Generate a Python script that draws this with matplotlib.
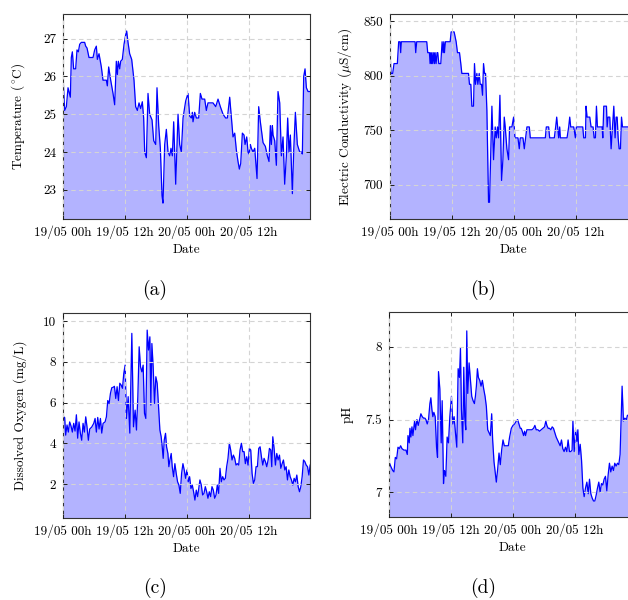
import matplotlib
matplotlib.use("Agg")
import matplotlib.pyplot as plt

# --------------------------------------------------
# DATOS (horas desde 19/05 00h)
# --------------------------------------------------
temp_h = [0.0, 0.32, 0.65, 0.97, 1.42, 1.61, 1.81, 2.06, 2.45, 2.71, 2.97, 3.23, 3.55, 4.19, 4.39,
          4.65, 5.03, 5.81, 6.13, 6.45, 6.65, 6.97, 7.42, 7.74, 8.39, 8.58, 8.84, 9.23, 9.68, 10.0,
          10.32, 10.52, 10.71, 10.97, 11.16, 11.48, 11.81, 12.13, 12.32, 12.58, 12.9, 13.29, 13.74,
          14.06, 14.39, 14.71, 15.03, 15.35, 15.61, 15.81, 16.13, 16.45, 16.77, 17.23, 17.55, 17.94,
          18.19, 18.52, 18.84, 19.16, 19.35, 19.68, 20.0, 20.32, 20.65, 20.9, 21.16, 21.42, 21.81,
          22.26, 22.58, 22.9, 23.23, 23.74, 24.19, 24.52, 24.84, 25.03, 25.16, 25.48, 25.81, 26.26,
          26.58, 26.9, 27.42, 27.74, 28.06, 29.03, 29.55, 30.0, 30.45, 30.97, 31.48, 31.81, 32.26,
          32.71, 32.9, 33.23, 33.55, 33.87, 34.13, 34.39, 34.71, 35.03, 35.23, 35.55, 35.81, 36.0,
          36.26, 36.45, 36.77, 37.1, 37.55, 37.87, 38.19, 38.71, 39.16, 39.55, 39.87, 40.13, 40.32,
          40.52, 40.65, 40.97, 41.29, 41.61, 41.94, 42.26, 42.58, 42.9, 43.23, 43.48, 43.74, 44.0,
          44.39, 44.65, 44.97, 45.35, 45.81, 46.13, 46.32, 46.58, 46.84, 47.1, 47.42, 47.8]
temp_v = [26.0, 25.1, 25.2, 25.7, 25.45, 26.5, 26.65, 26.2, 26.2, 26.7, 26.65, 26.85, 26.9, 26.9, 26.8,
          26.75, 26.5, 26.5, 26.7, 26.8, 26.45, 26.6, 26.25, 25.9, 25.9, 25.75, 26.25, 25.9, 25.55, 25.25,
          26.4, 26.05, 26.4, 26.2, 26.4, 26.45, 26.85, 27.1, 27.2, 26.9, 26.6, 26.45, 25.9,
          25.2, 25.1, 25.3, 25.15, 25.33, 24.9, 24.0, 23.85, 25.55, 25.0, 24.85, 24.3, 24.2,
          25.7, 24.7, 24.1, 22.85, 22.65, 24.2, 24.6, 24.0, 23.9, 24.1, 23.9, 24.8, 23.15,
          25.0, 24.2, 24.0, 24.9, 25.35, 25.55, 24.95, 24.9, 25.05, 24.8, 25.05, 24.9, 24.9,
          25.55, 25.4, 25.4, 25.1, 25.3, 25.3, 25.2, 25.4, 25.2, 25.0, 24.9, 24.9, 25.45,
          24.7, 24.4, 24.5, 24.05, 23.75, 23.55, 23.7, 24.5, 24.45, 24.2, 24.4, 24.0, 23.95,
          24.2, 24.1, 24.0, 24.1, 23.3, 25.2, 24.8, 24.25, 24.15, 23.9, 23.75, 24.7, 24.2,
          24.7, 24.45, 24.3, 23.65, 25.6, 25.3, 23.9, 24.4, 23.15, 23.9, 24.9, 24.0, 24.45,
          22.9, 24.05, 25.05, 24.2, 24.0, 24.0, 23.95, 26.0, 26.2, 25.7, 25.6, 25.6]

ec_h = [0.0, 0.19, 0.52, 0.78, 1.42, 1.68, 1.94, 2.07, 2.2, 4.85, 4.98, 5.17, 7.11, 7.3, 7.63, 7.76,
        7.89, 8.02, 8.14, 8.27, 8.47, 8.6, 8.73, 8.92, 9.11, 9.24, 9.44, 9.83, 10.08, 10.28, 10.41,
        10.54, 10.73, 11.64, 11.83, 12.41, 12.8, 13.06, 13.45, 13.7, 13.9, 15.19, 15.38, 15.64,
        15.84, 16.16, 16.35, 16.55, 16.81, 17.0, 17.26, 17.45, 17.71, 17.91, 18.1, 18.29, 18.49,
        18.75, 19.07, 19.26, 19.72, 20.04, 20.36, 20.56, 20.81, 21.01, 21.27, 21.59, 21.85, 22.11,
        22.3, 22.62, 22.95, 23.14, 23.59, 23.92, 24.18, 24.76, 25.02, 25.21, 25.73, 25.99, 26.24,
        26.5, 26.96, 27.15, 30.06, 30.25, 30.7, 30.9, 31.8, 32.06, 32.26, 32.45, 32.64, 32.84,
        32.97, 34.26, 34.58, 34.78, 34.97, 35.55, 35.88, 36.07, 37.3, 37.49, 37.82, 37.94, 38.14,
        38.66, 38.91, 39.3, 39.5, 39.75, 39.95, 40.14, 41.05, 41.18, 41.37, 41.89, 42.02, 42.21,
        42.53, 42.79, 43.05, 43.31, 43.56, 43.76, 43.96, 44.15, 44.34, 44.6, 44.8, 44.99, 47.8]
ec_v = [821, 802, 802, 811, 811, 831, 831, 821, 831, 831, 821, 831, 831, 821, 821, 811,
        821, 811, 821, 811, 821, 811, 821, 811, 821, 821, 811, 811, 831, 821, 831,
        821, 831, 831, 840, 840, 831, 821, 821, 811, 802, 802, 792, 792,
        772, 772, 811, 792, 802, 792, 802, 792, 792, 782, 811, 802, 802,
        768, 684, 684, 772, 723, 753, 743, 753, 743, 782, 704, 723, 762,
        753, 733, 723, 753, 753, 762, 743, 743, 733, 743, 743, 733, 743,
        753, 753, 743, 743, 753, 753, 743, 743, 753, 762, 753, 743, 753,
        743, 743, 753, 762, 753, 753, 743, 753, 753, 743, 743, 772, 762,
        762, 753, 753, 743, 743, 772, 753, 753, 743, 772, 772, 753, 762,
        762, 733, 753, 772, 743, 762, 762, 743, 733, 733, 762, 753, 753]

do_h = [0.0, 0.32, 0.52, 0.78, 1.03, 1.29, 1.55, 1.81, 2.07, 2.33, 2.59, 2.84, 3.1, 3.36, 3.62,
        3.88, 4.14, 4.4, 4.65, 4.91, 5.17, 5.56, 5.95, 6.21, 6.46, 6.72, 6.98, 7.24, 7.5, 7.76,
        8.14, 8.4, 8.66, 8.92, 9.18, 9.44, 9.7, 9.95, 10.21, 10.47, 10.73, 10.99, 11.25, 11.51,
        11.76, 12.02, 12.28, 12.61, 12.93, 13.32, 13.64, 13.96, 14.22, 14.48, 14.74, 15.0, 15.26,
        15.51, 15.77, 16.03, 16.29, 16.55, 16.81, 17.0, 17.2, 17.45, 17.71, 17.97, 18.23, 18.42,
        18.75, 19.0, 19.2, 19.39, 19.59, 19.84, 20.04, 20.3, 20.49, 20.69, 20.94, 21.14, 21.4,
        21.65, 21.91, 22.17, 22.43, 22.69, 22.95, 23.21, 23.46, 23.72, 23.98, 24.24, 24.5, 24.76,
        25.02, 25.27, 25.53, 25.79, 26.05, 26.31, 26.5, 26.76, 27.02, 27.28, 27.54, 27.8, 28.05,
        28.31, 28.57, 28.83, 29.09, 29.35, 29.61, 29.86, 30.12, 30.38, 30.64, 30.9, 31.16, 31.42,
        31.67, 31.93, 32.19, 32.45, 32.71, 32.97, 33.23, 33.48, 33.74, 34.0, 34.26, 34.52, 34.78,
        35.04, 35.29, 35.55, 35.81, 36.07, 36.33, 36.59, 36.85, 37.1, 37.36, 37.62, 37.88, 38.14,
        38.4, 38.66, 38.91, 39.17, 39.43, 39.69, 39.95, 40.21, 40.4, 40.6, 40.85, 41.11, 41.37,
        41.63, 41.89, 42.15, 42.41, 42.66, 42.92, 43.18, 43.44, 43.7, 43.96, 44.21, 44.47, 44.73,
        44.99, 45.25, 45.51, 45.77, 46.02, 46.28, 46.54, 46.8, 47.06, 47.32, 47.58, 47.83]
do_v = [5.3, 5.27, 4.4, 4.9, 4.55, 5.05, 4.85, 4.55, 4.98, 4.6, 5.4, 4.25, 5.05, 4.5, 4.15,
        4.98, 4.55, 5.3, 4.8, 4.15, 4.7, 4.8, 4.98, 5.22, 4.55, 5.27, 4.7, 5.22, 4.5, 4.98,
        5.05, 5.3, 6.1, 5.95, 6.45, 6.73, 6.75, 6.8, 6.2, 6.78, 6.1, 6.95, 6.86, 6.7,
        7.43, 7.84, 5.22, 6.29, 4.5, 9.4, 4.81, 5.63, 4.65, 6.29, 8.74, 7.76, 7.51,
        7.84, 5.47, 5.22, 9.56, 8.58, 9.23, 5.88, 8.9, 7.76, 5.96, 7.27, 6.94, 6.12,
        4.65, 4.32, 3.83, 3.26, 4.16, 4.49, 3.83, 3.5, 2.85, 3.18, 3.5, 2.85, 2.36,
        3.0, 2.52, 2.11, 1.95, 1.54, 2.52, 3.0, 2.69, 2.28, 2.69, 2.11, 2.36, 1.78,
        1.95, 1.62, 1.21, 1.7, 1.38, 1.87, 2.2, 1.95, 1.46, 1.54, 1.87, 1.62, 1.3,
        1.62, 1.38, 1.87, 1.7, 1.3, 1.46, 1.95, 1.54, 2.77, 2.11, 2.36, 2.2, 2.28,
        2.85, 3.26, 4.0, 3.67, 3.18, 3.42, 3.26, 2.93, 3.0, 2.93, 3.67, 4.0, 3.59,
        3.59, 3.0, 3.34, 2.93, 3.75, 3.67, 2.52, 2.03, 2.2, 2.85, 2.85, 3.75, 3.83,
        3.34, 2.93, 3.26, 3.1, 2.85, 3.18, 3.75, 3.67, 2.85, 4.32, 3.75, 2.93, 3.5,
        3.18, 3.42, 2.77, 3.0, 3.18, 2.69, 2.85, 2.2, 2.69, 2.36, 2.2, 1.95, 2.28,
        2.11, 2.44, 1.87, 1.62, 1.87, 2.36, 3.18, 3.1, 2.93, 2.85, 2.44, 2.93]

ph_h = [0.0, 0.32, 0.71, 0.96, 1.22, 1.48, 1.74, 1.99, 2.25, 2.51, 2.89, 3.28, 3.54, 3.67, 3.92,
        4.05, 4.24, 4.44, 4.63, 4.95, 5.14, 5.4, 5.66, 5.92, 6.17, 6.43, 6.69, 6.95, 7.14, 7.4,
        7.65, 7.91, 8.1, 8.3, 8.49, 8.68, 8.94, 9.2, 9.39, 9.58, 9.84, 10.1, 10.29, 10.55, 10.74,
        11.0, 11.25, 11.51, 11.77, 12.09, 12.35, 12.6, 12.86, 13.12, 13.38, 13.63, 13.83, 14.02,
        14.28, 14.47, 14.66, 14.86, 15.05, 15.24, 15.5, 15.76, 16.01, 16.27, 16.53, 16.72, 16.91,
        17.11, 17.3, 17.56, 17.81, 18.07, 18.33, 18.59, 18.84, 19.1, 19.36, 19.61, 19.87, 20.06,
        20.32, 20.58, 20.77, 21.03, 21.29, 21.54, 21.8, 22.06, 22.32, 22.7, 23.09, 23.34, 23.67,
        23.99, 24.31, 24.63, 24.89, 25.14, 25.4, 25.59, 25.79, 26.05, 26.24, 26.43, 26.69, 27.01,
        27.33, 27.65, 27.97, 28.23, 28.49, 28.81, 29.13, 29.45, 29.77, 30.1, 30.35, 30.55, 30.8,
        31.06, 31.32, 31.58, 31.83, 32.09, 32.35, 32.6, 32.86, 33.12, 33.38, 33.63, 33.89, 34.15,
        34.41, 34.66, 34.92, 35.18, 35.43, 35.59, 35.84, 36.1, 36.36, 36.55, 36.74, 37.0, 37.26,
        37.52, 37.77, 38.03, 38.29, 38.55, 38.8, 39.06, 39.32, 39.58, 39.83, 40.09, 40.35, 40.6,
        40.86, 41.12, 41.38, 41.63, 41.89, 42.15, 42.41, 42.66, 42.92, 43.18, 43.44, 43.69, 43.95,
        44.21, 44.47, 44.72, 44.92, 45.11, 45.37, 45.63, 45.95, 46.14, 46.6, 47.1, 47.8]
ph_v = [7.21, 7.18, 7.15, 7.14, 7.24, 7.23, 7.31, 7.3, 7.32, 7.3, 7.29, 7.29, 7.26, 7.39, 7.34,
        7.44, 7.38, 7.45, 7.39, 7.49, 7.43, 7.5, 7.46, 7.5, 7.54, 7.52, 7.51, 7.51, 7.5, 7.47,
        7.5, 7.61, 7.65, 7.57, 7.52, 7.55, 7.52, 7.31, 7.24, 7.83, 7.71, 7.34, 7.63, 7.06, 7.15,
        7.11, 7.38, 7.34, 7.52, 7.66, 7.47, 7.52, 7.41, 7.31, 7.85, 7.79, 7.99, 7.57,
        7.34, 7.86, 7.52, 7.43, 8.11, 7.68, 7.89, 7.77, 7.66, 7.63, 7.61, 7.66, 7.73,
        7.85, 7.79, 7.77, 7.73, 7.77, 7.71, 7.66, 7.59, 7.43, 7.41, 7.39, 7.54, 7.36,
        7.21, 7.13, 7.07, 7.16, 7.27, 7.19, 7.29, 7.36, 7.32, 7.32, 7.32, 7.38, 7.44,
        7.46, 7.47, 7.49, 7.5, 7.47, 7.44, 7.44, 7.42, 7.39, 7.42, 7.39, 7.43, 7.43,
        7.43, 7.43, 7.44, 7.46, 7.43, 7.43, 7.42, 7.43, 7.44, 7.45, 7.49, 7.46, 7.44,
        7.44, 7.43, 7.45, 7.44, 7.41, 7.38, 7.36, 7.34, 7.32, 7.36, 7.3, 7.28, 7.31,
        7.28, 7.36, 7.28, 7.28, 7.29, 7.49, 7.28, 7.43, 7.35, 7.43, 7.26, 7.33, 7.22,
        7.03, 6.97, 7.03, 7.07, 6.99, 7.09, 6.99, 6.96, 6.94, 6.94, 6.98, 7.03, 7.07,
        7.0, 7.06, 7.05, 7.09, 7.11, 7.01, 7.12, 7.2, 7.14, 7.18, 7.15, 7.2, 7.18,
        7.2, 7.19, 7.26, 7.51, 7.73, 7.49, 7.51, 7.5, 7.53, 7.52, 7.51, 7.52]

xtick_pos = [0, 12, 24, 36]
xtick_labels = ['19/05 00h', '19/05 12h', '20/05 00h', '20/05 12h']

# --------------------------------------------------
# ESTILO (parecido a pgfplots / LaTeX)
# --------------------------------------------------
plt.rcParams['font.family'] = 'serif'
plt.rcParams['font.serif'] = ['cmr10', 'DejaVu Serif']
plt.rcParams['mathtext.fontset'] = 'cm'
plt.rcParams['axes.formatter.use_mathtext'] = True
plt.rcParams['font.size'] = 9

fig = plt.figure(figsize=(6.28, 6.00), dpi=100)

W = 247 / 628
H = 205 / 600
paneles = [
    # (pos, horas, valores, ylabel, ylim, yticks, yticklabels)
    ([63 / 628, 381 / 600, W, H], temp_h, temp_v, r'Temperature ($^\circ\!$C)',
     (22.23, 27.65), [23, 24, 25, 26, 27], ['23', '24', '25', '26', '27']),
    ([390 / 628, 381 / 600, W, H], ec_h, ec_v, r'Electric Conductivity ($\mu$S/cm)',
     (668.7, 856.4), [700, 750, 800, 850], ['700', '750', '800', '850']),
    ([63 / 628, 82 / 600, W, H], do_h, do_v, 'Dissolved Oxygen (mg/L)',
     (0.33, 10.4), [2, 4, 6, 8, 10], ['2', '4', '6', '8', '10']),
    ([389 / 628, 83 / 600, W, H], ph_h, ph_v, 'pH',
     (6.83, 8.24), [7, 7.5, 8], ['7', '7.5', '8']),
]

for pos, h, v, ylab, ylim, yt, ytl in paneles:
    ax = fig.add_axes(pos)
    ax.fill_between(h, v, ylim[0], color='#b3b3ff', lw=0)
    ax.plot(h, v, color='#0000ff', lw=0.9)
    ax.set_xlim(0, 47.8)
    ax.set_ylim(*ylim)
    ax.set_xticks(xtick_pos)
    ax.set_xticklabels(xtick_labels)
    ax.set_yticks(yt)
    ax.set_yticklabels(ytl)
    ax.grid(True, ls=(0, (4, 3)), color='#d4d4d4', lw=0.8)
    ax.set_axisbelow(False)
    ax.tick_params(direction='in', length=3, width=0.6, top=True, right=True,
                   labelsize=9.5, pad=5)
    for s in ax.spines.values():
        s.set_linewidth(0.8)
        s.set_color('#333333')
    ax.set_xlabel('Date', fontsize=9.5)
    ax.xaxis.set_label_coords(0.5, -0.12)
    ax.set_ylabel(ylab, fontsize=9.5)
    ax.yaxis.set_label_coords(-0.145, 0.5)

# Subtítulos (a) (b) (c) (d)
fig.text(155 / 628, 1 - 290 / 600, '(a)', ha='center', va='center', fontsize=14)
fig.text(483 / 628, 1 - 290 / 600, '(b)', ha='center', va='center', fontsize=14)
fig.text(155 / 628, 1 - 588 / 600, '(c)', ha='center', va='center', fontsize=14)
fig.text(483 / 628, 1 - 588 / 600, '(d)', ha='center', va='center', fontsize=14)

fig.savefig('out.png', dpi=100)
